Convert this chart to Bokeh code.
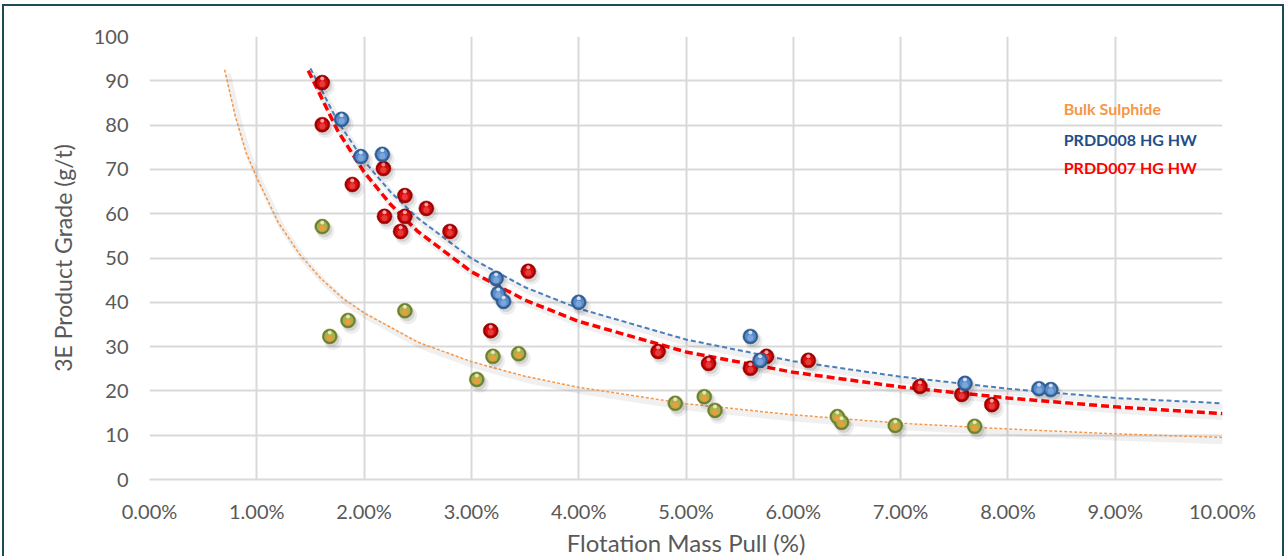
from bokeh.plotting import figure
from bokeh.models import FixedTicker, Range1d, ColumnDataSource
from bokeh.core.properties import value
from bokeh.transform import dodge
from bokeh.embed import file_html
from bokeh.resources import INLINE

# ---- data (flotation mass pull in %, 3E grade in g/t) ----
red_x = [1.61, 1.61, 1.89, 2.18, 2.19, 2.38, 2.38, 2.34, 2.58, 2.80, 3.18, 3.53,
         4.74, 5.21, 5.60, 5.75, 6.14, 7.18, 7.57, 7.85]
red_y = [89.6, 80.1, 66.6, 70.2, 59.4, 64.1, 59.4, 56.0, 61.2, 56.0, 33.6, 47.0,
         28.9, 26.2, 25.1, 27.8, 26.9, 21.0, 19.2, 16.9]

blue_x = [1.79, 1.97, 2.17, 3.23, 3.25, 3.30, 4.00, 5.60, 5.69, 7.60, 8.29, 8.40]
blue_y = [81.3, 72.9, 73.4, 45.4, 42.0, 40.2, 40.0, 32.3, 26.9, 21.7, 20.5, 20.3]

bulk_x = [1.61, 1.68, 1.85, 2.38, 3.05, 3.20, 3.44, 4.90, 5.17, 5.27, 6.41, 6.45,
          6.95, 7.69]
bulk_y = [57.1, 32.3, 35.9, 38.1, 22.6, 27.8, 28.4, 17.2, 18.7, 15.6, 14.2, 12.9,
          12.2, 12.0]

# trend lines
bulk_trend_x = [0.70, 0.80, 0.90, 1.00, 1.20, 1.40, 1.60, 1.80, 2.00, 2.50, 3.00,
                3.50, 4.00, 5.00, 6.00, 7.00, 8.00, 9.00, 10.00]
bulk_trend_y = [92.5, 82.0, 73.8, 68.2, 58.0, 50.8, 45.3, 40.9, 37.6, 31.0, 26.6,
                23.3, 20.8, 17.1, 14.6, 12.7, 11.4, 10.3, 9.5]

blue_trend_x = [1.50, 1.75, 2.00, 2.25, 2.50, 3.00, 3.50, 4.00, 5.00, 6.00, 7.00,
                8.00, 9.00, 10.00]
blue_trend_y = [92.8, 81.0, 71.9, 64.8, 59.0, 49.9, 43.4, 38.6, 31.6, 26.7, 23.2,
                20.5, 18.4, 17.2]

red_trend_x = [1.48, 1.75, 2.00, 2.25, 2.50, 3.00, 3.50, 4.00, 5.00, 6.00, 7.00,
               8.00, 9.00, 10.00]
red_trend_y = [92.3, 78.9, 69.4, 62.0, 56.0, 46.9, 40.5, 35.7, 28.8, 24.2, 20.9,
               18.4, 16.4, 14.9]

x_ticks = [0, 1, 2, 3, 4, 5, 6, 7, 8, 9, 10]
x_tick_labels = ["0.00%", "1.00%", "2.00%", "3.00%", "4.00%", "5.00%", "6.00%",
                 "7.00%", "8.00%", "9.00%", "10.00%"]
y_ticks = [0, 10, 20, 30, 40, 50, 60, 70, 80, 90, 100]

legend_names = ["Bulk Sulphide", "PRDD008 HG HW", "PRDD007 HG HW"]
legend_x = [8.52, 8.52, 8.52]
legend_y = [83.7, 76.7, 70.4]
legend_colors = ["#f79646", "#1f4e8c", "#ff0000"]

FONT = "Lato"
GREY = "#595959"
GRID = "#d9d9d9"

p = figure(frame_width=1073, frame_height=443,
           x_range=Range1d(0, 10), y_range=Range1d(0, 100),
           output_backend="svg", toolbar_location=None,
           min_border_left=145, min_border_right=60,
           min_border_top=30, min_border_bottom=79)
p.styles = {"border": "2px solid #1d4b5a", "margin-left": "2px", "margin-top": "4px"}
p.outline_line_color = None
p.background_fill_color = "white"
p.border_fill_color = "white"

p.xaxis.ticker = FixedTicker(ticks=x_ticks)
p.xaxis.major_label_overrides = {t: l for t, l in zip(x_ticks, x_tick_labels)}
p.yaxis.ticker = FixedTicker(ticks=y_ticks)

for ax in (p.xaxis, p.yaxis):
    ax.major_tick_line_color = None
    ax.minor_tick_line_color = None
    ax.major_label_text_font = FONT
    ax.major_label_text_font_size = "20px"
    ax.major_label_text_color = GREY
    ax.axis_label_text_font = FONT
    ax.axis_label_text_color = GREY
    ax.axis_label_text_font_style = "normal"

p.xaxis.axis_label_text_font_size = "24px"
p.yaxis.axis_label_text_font_size = "23px"
p.xaxis.axis_label = "Flotation Mass Pull (%)"
p.yaxis.axis_label = "3E Product Grade (g/t)"
p.xaxis.axis_line_color = GRID
p.xaxis.axis_line_width = 2
p.yaxis.axis_line_color = None
p.xaxis.major_label_standoff = 13
p.yaxis.major_label_standoff = 15
p.xaxis.axis_label_standoff = 2
p.yaxis.axis_label_standoff = 14

p.xgrid.grid_line_color = GRID
p.ygrid.grid_line_color = GRID
p.xgrid.grid_line_width = 2
p.ygrid.grid_line_width = 2

# trend line shadows
for tx, ty in ((bulk_trend_x, bulk_trend_y), (blue_trend_x, blue_trend_y),
               (red_trend_x, red_trend_y)):
    src = ColumnDataSource(dict(x=tx, y=ty))
    p.line(x=dodge("x", 0.03, range=p.x_range), y=dodge("y", -0.9, range=p.y_range),
           source=src, line_color="black", line_alpha=0.06, line_width=6)

# trend lines
p.line(bulk_trend_x, bulk_trend_y, line_color="#f79646", line_width=1.5, line_dash="3 2")
p.line(blue_trend_x, blue_trend_y, line_color="#4a7ebb", line_width=2, line_dash="5 3")
p.line(red_trend_x, red_trend_y, line_color="#ff0000", line_width=3.5, line_dash="8 4")


def spheres(xs, ys, rim, body, glow, hi):
    src = ColumnDataSource(dict(x=xs, y=ys))
    # soft shadow
    p.scatter(x=dodge("x", 0.03, range=p.x_range), y=dodge("y", -1.0, range=p.y_range),
              source=src, size=18, fill_color="black", fill_alpha=0.07, line_color=None)
    p.scatter(x=dodge("x", 0.02, range=p.x_range), y=dodge("y", -0.7, range=p.y_range),
              source=src, size=15, fill_color="black", fill_alpha=0.10, line_color=None)
    p.scatter(x="x", y="y", source=src, size=15, fill_color=rim,
              line_color=rim, line_width=0.5)
    p.scatter(x="x", y="y", source=src, size=11, fill_color=body, line_color=None)
    p.scatter(x="x", y=dodge("y", -0.35, range=p.y_range), source=src, size=6,
              fill_color=glow, line_color=None, fill_alpha=0.9)
    p.scatter(x="x", y=dodge("y", 0.9, range=p.y_range), source=src, size=4,
              fill_color=hi, line_color=None, fill_alpha=0.9)


spheres(bulk_x, bulk_y, "#6f7f2c", "#a4b24e", "#f39a3c", "#e9efc0")
spheres(red_x, red_y, "#9c0000", "#d90d0d", "#e84040", "#ffb0b0")
spheres(blue_x, blue_y, "#2f5d93", "#5a8ccb", "#7fa8da", "#dbe8f7")

lsrc = ColumnDataSource(dict(x=legend_x, y=legend_y, t=legend_names, c=legend_colors))
p.text(x="x", y="y", text="t", text_color="c", source=lsrc,
       text_font=value(FONT), text_font_size="16px", text_font_style="bold",
       text_baseline="middle", text_align="left")

open("out.html", "w").write(file_html(p, INLINE))
